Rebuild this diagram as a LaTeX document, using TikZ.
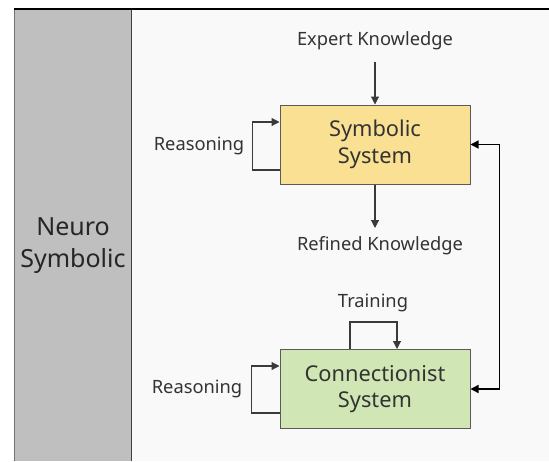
\documentclass[tikz,border=0pt]{standalone}
\usepackage{fontspec}
\setmainfont{Noto Sans}
\usetikzlibrary{arrows.meta}
\definecolor{colgrey}{HTML}{BFBFBF}
\definecolor{bgpanel}{HTML}{F9F9F9}
\definecolor{symfill}{HTML}{FAE093}
\definecolor{confill}{HTML}{D0E7B5}
\definecolor{boxline}{HTML}{5A5A5A}
\definecolor{txt}{HTML}{333333}
\definecolor{lnk}{HTML}{3A3A3A}
\tikzset{
  sysbox/.style={draw=boxline, line width=1pt, minimum width=190pt, minimum height=79pt, inner sep=0pt, align=center, font=\fontsize{21.8}{26.5}\selectfont, text=txt},
  lbl/.style={font=\fontsize{18.3}{21}\selectfont, text=txt, inner sep=0pt},
  arr/.style={draw=lnk, line width=1.1pt, -{Triangle[length=8pt,width=8pt]}},
  arrboth/.style={draw=black, line width=1.3pt, {Triangle[length=8pt,width=8pt]}-{Triangle[length=8pt,width=8pt]}}
}
\begin{document}
\begin{tikzpicture}[x=1pt,y=-1pt]
\useasboundingbox (0,0) rectangle (549,461);
\fill[white] (0,0) rectangle (549,461);
\fill[bgpanel] (132,9) rectangle (549,461);
\fill[colgrey] (14,9) rectangle (132,461);
\draw[draw=gray!90!black, line width=1pt] (14.5,9) -- (14.5,461);
\draw[draw=black!75, line width=1.3pt] (131.5,9) -- (131.5,461);
\draw[black, line width=1.2pt] (14,9) -- (549,9);
\node[align=center, font=\fontsize{25}{31.5}\selectfont, text=black!85, inner sep=0pt] (neuro) at (73,245.5) {Neuro\\Symbolic};
\node[sysbox, fill=symfill] (sym) at (375,144.5) {Symbolic\\System};
\node[sysbox, fill=confill] (con) at (375,389) {Connectionist\\System};
\node[lbl] (expert) at (375,41) {Expert Knowledge};
\node[lbl] (refined) at (380,246) {Refined Knowledge};
\node[lbl] (reas1) at (199,146) {Reasoning};
\node[lbl] (reas2) at (197,389) {Reasoning};
\node[lbl] (train) at (373,303) {Training};
\coordinate (expertend) at (375,62);
\coordinate (refinedend) at (375,228);
\draw[arr] (expertend) -- (sym.north);
\draw[arr] (sym.south) -- (refinedend);
\draw[arr] ([yshift=-25.5pt]sym.west) -- ++(-27,0) |- ([yshift=22.5pt]sym.west);
\draw[arr] ([yshift=-24pt]con.west) -- ++(-28,0) |- ([yshift=23pt]con.west);
\draw[arr] ([xshift=-25pt]con.north) -- ++(0,-27) -| ([xshift=22pt]con.north);
\draw[arrboth] (sym.east) -- ++(29,0) |- (con.east);
\end{tikzpicture}
\end{document}
